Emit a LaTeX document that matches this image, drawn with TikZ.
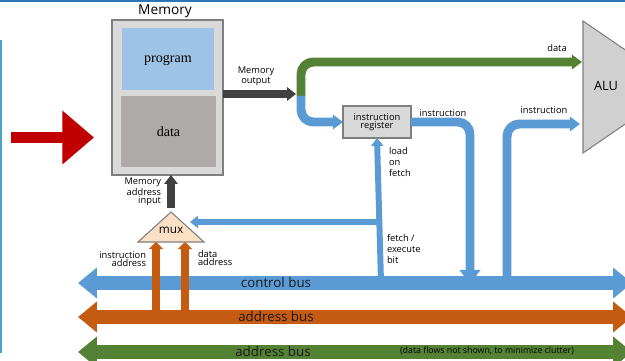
\documentclass[tikz,border=0pt]{standalone}
\usepackage{fontspec}
\setmainfont{Open Sans}
\newfontfamily\memfont{Liberation Serif}
\usetikzlibrary{arrows.meta}

\definecolor{busblue}{HTML}{5B9BD5}
\definecolor{busgreen}{HTML}{548235}
\definecolor{busorange}{HTML}{C55A11}
\definecolor{arrgray}{HTML}{404040}
\definecolor{memgray}{HTML}{D9D9D9}
\definecolor{progblue}{HTML}{9DC3E6}
\definecolor{datagray}{HTML}{AEAAAA}
\definecolor{alugray}{HTML}{D0D0D0}
\definecolor{muxfill}{HTML}{FBE0C6}
\definecolor{framegray}{HTML}{7F7F7F}
\definecolor{bigred}{HTML}{C00000}
\definecolor{edgeblue}{HTML}{2E75B6}
\definecolor{sideblue}{HTML}{4BA3C8}

\begin{document}
\begin{tikzpicture}[x=0.02cm,y=-0.02cm]
\tikzstyle{every node}=[inner sep=0pt,outer sep=0pt]
\tikzstyle{lbl}=[font=\fontsize{5.3}{4.7}\selectfont]
\tikzstyle{buslbl}=[font=\fontsize{7.6}{8}\selectfont,text=black!90]
\tikzstyle{box}=[draw=framegray,line width=0.6pt]
\tikzstyle{busarrow}=[line width=7.9pt,{Triangle[length=10.8pt,width=17pt]}-{Triangle[length=10.8pt,width=17pt]}]
\tikzstyle{flowarrow}=[line width=5.1pt,rounded corners=7pt,-{Triangle[length=5.7pt,width=8pt]}]
\tikzstyle{ctrlarrow}=[busblue,line width=3.4pt,-{Triangle[length=4.5pt,width=6.8pt]}]
\tikzstyle{addrarrow}=[busorange,line width=4.5pt,-{Triangle[length=4pt,width=8pt]}]
\tikzstyle{grayarrow}=[arrgray,line width=4.2pt,-{Triangle[length=5pt,width=7.4pt]}]

\useasboundingbox (0,0) rectangle (625,361);
\clip (0,0) rectangle (625,361);

% frame
\draw[edgeblue,line width=1.2pt] (0,1) -- (625,1);
\draw[sideblue,line width=1pt] (0.9,40) -- (0.9,353);

% memory
\node[font=\fontsize{7.8}{8}\selectfont] (memtitle) at (165,11) {Memory};
\node[box,fill=memgray,minimum width=2.22cm,minimum height=3.1cm] (mem) at (167.5,97.5) {};
\node[fill=progblue,minimum width=1.84cm,minimum height=1.24cm,text depth=0pt,font=\memfont\fontsize{8}{9}\selectfont] (prog) at (168,59) {program};
\node[fill=datagray,minimum width=1.9cm,minimum height=1.42cm,text depth=0pt,font=\memfont\fontsize{8}{9}\selectfont] (data) at (168.5,131.5) {data};

\coordinate (redtail) at (11,137.5);
\coordinate (redtip) at (94,137.5);
\draw[bigred,line width=6.2pt,-{Triangle[length=18pt,width=29.5pt]}] (redtail) -- (redtip);

% ALU
\draw[draw=framegray,fill=alugray,line width=0.6pt] (640,60) -- (583,21) -- (583,153) -- (640,114);
\node[font=\fontsize{7.3}{8}\selectfont] (alu) at (606,86) {ALU};
\coordinate (alu-data) at (582,62);
\coordinate (alu-instr) at (580,124);

% instruction register
\node[box,fill=memgray,minimum width=1.36cm,minimum height=0.64cm,align=center,lbl] (reg) at (377,122) {instruction\\register};

% memory output
\coordinate (split) at (301,96);
\coordinate (splitin) at (296,94);
\draw[grayarrow] (mem.east |- splitin) -- (splitin);
\node[lbl,align=center] (memoutlbl) at (256,76) {Memory\\output};

\draw[busgreen,flowarrow] (split) -- (split |- alu-data) -- (alu-data);
\draw[busblue,flowarrow] (split) -- (split |- reg.west) -- (reg.west);
\node[lbl] (datalbl) at (557,48) {data};

% instruction paths
\coordinate (cb-in) at (470,284);
\coordinate (cb-out) at (507,288);
\draw[busblue,flowarrow,-{Triangle[length=8pt,width=11.5pt]}] (reg.east) -- (reg.east -| cb-in) -- (cb-in);
\draw[busblue,flowarrow] (cb-out) -- (cb-out |- alu-instr) -- (alu-instr);
\node[lbl] (instrlbl1) at (443,113) {instruction};
\node[lbl] (instrlbl2) at (544,110) {instruction};

% fetch / execute
\coordinate (fe-bit) at (381,282);
\coordinate (fe-tap) at (381,222);
\coordinate (mux-sel) at (190,222);
\draw[ctrlarrow] (fe-bit) -- (reg.south);
\draw[ctrlarrow] (fe-tap) -- (mux-sel);
\node[lbl,align=left,anchor=west,font=\fontsize{5.3}{6.2}\selectfont] (loadlbl) at (389,162) {load\\on\\fetch};
\node[lbl,align=left,anchor=west,font=\fontsize{5.3}{6.2}\selectfont] (felbl) at (387,249) {fetch /\\execute\\bit};

% buses
\draw[busarrow,busblue] (78,283) coordinate (cb-w) -- (632,283) coordinate (cb-e);
\draw[busarrow,busorange] (78,317) coordinate (ab-w) -- (632,317) coordinate (ab-e);
\draw[busarrow,busgreen] (78,352) coordinate (db-w) -- (632,352) coordinate (db-e);
\node[buslbl] (cblbl) at (276,282) {control bus};
\node[buslbl] (ablbl) at (276,316.5) {address bus};
\node[buslbl] (dblbl) at (273,351) {address bus};
\node[font=\fontsize{5}{6}\selectfont] (notelbl) at (487,351) {(data flows not shown, to minimize clutter)};

% mux
\coordinate (mux-top) at (171,212);
\coordinate (mux-out) at (171,208);
\coordinate (mux-base) at (171,242);
\draw[box,fill=muxfill] (mux-top) -- (204,242) -- (138,242) -- cycle;
\node[font=\fontsize{6.7}{8}\selectfont] (mux) at (171,230) {mux};
\draw[grayarrow] (mux-out) -- (mux-out |- mem.south);
\node[lbl,align=right,anchor=east] (addrinlbl) at (161,192) {Memory\\address\\input};

\coordinate (ia-bus) at (156,312);
\coordinate (da-bus) at (185,312);
\draw[addrarrow] (ia-bus) -- (ia-bus |- mux-base);
\draw[addrarrow] (da-bus) -- (da-bus |- mux-base);
\node[lbl,align=right,anchor=east] (ialbl) at (146,259) {instruction\\address};
\node[lbl,align=left,anchor=west] (dalbl) at (198,258) {data\\address};

\end{tikzpicture}
\end{document}
